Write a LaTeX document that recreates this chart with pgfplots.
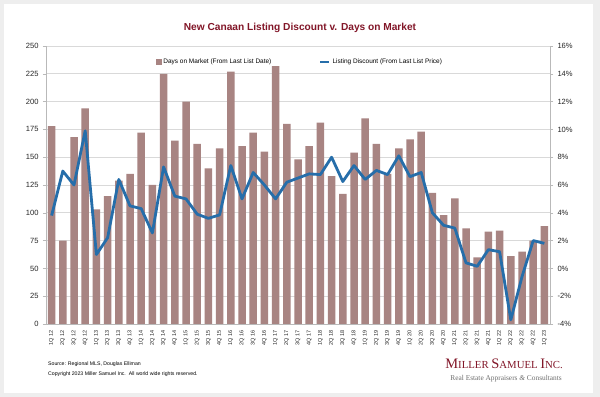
\documentclass[border=0pt]{standalone}
\usepackage{pgfplots}
\pgfplotsset{compat=1.18}
\usepackage{pgfplotstable}
\usepackage{fontspec}
\setmainfont{Liberation Sans}
\newfontfamily\seriffont{Liberation Serif}
\definecolor{barcol}{RGB}{168,132,130}
\definecolor{linecol}{RGB}{38,110,170}
\definecolor{titlecol}{RGB}{130,22,40}
\definecolor{gridcol}{RGB}{217,217,217}
\definecolor{axiscol}{RGB}{185,185,185}
\definecolor{bgcol}{RGB}{238,238,238}
\definecolor{logogray}{RGB}{110,110,110}
\pgfplotstableread{
i dom disc
0 178 3.8
1 75 7.0
2 168 6.0
3 194 9.9
4 103 1.0
5 115 2.2
6 129 6.4
7 135 4.5
8 172 4.3
9 125 2.55
10 225 7.3
11 165 5.2
12 200 5.0
13 162 3.9
14 140 3.6
15 158 3.85
16 227 7.4
17 160 5.0
18 172 6.9
19 155 6.0
20 232 5.0
21 180 6.2
22 148 6.5
23 160 6.8
24 181 6.75
25 133 8.0
26 117 6.25
27 154 7.4
28 185 6.4
29 162 7.05
30 135 6.75
31 158 8.1
32 166 6.6
33 173 6.9
34 118 4.0
35 98 3.1
36 113 2.9
37 86 0.4
38 60 0.15
39 83 1.35
40 84 1.2
41 61 -3.7
42 65 -0.6
43 75 2.0
44 88 1.8
}\data
\begin{document}
\begin{tikzpicture}
\useasboundingbox (0,0) rectangle (600bp,397bp);
\fill[bgcol] (0,0) rectangle (600bp,397bp);
\fill[white] (4bp,4bp) rectangle (593bp,393bp);
\begin{axis}[
  at={(46bp,73bp)}, anchor=south west, scale only axis,
  width=504bp, height=278bp,
  xmin=-0.5, xmax=44.5, ymin=0, ymax=250,
  ytick={0,25,...,250},
  xtick={0,...,44},
  xticklabels={1Q 12,2Q 12,3Q 12,4Q 12,1Q 13,2Q 13,3Q 13,4Q 13,1Q 14,2Q 14,3Q 14,4Q 14,1Q 15,2Q 15,3Q 15,4Q 15,1Q 16,2Q 16,3Q 16,4Q 16,1Q 17,2Q 17,3Q 17,4Q 17,1Q 18,2Q 18,3Q 18,4Q 18,1Q 19,2Q 19,3Q 19,4Q 19,1Q 20,2Q 20,3Q 20,4Q 20,1Q 21,2Q 21,3Q 21,4Q 21,1Q 22,2Q 22,3Q 22,4Q 22,1Q 23},
  axis x line*=bottom, axis y line*=left,
  axis line style={axiscol},
  ymajorgrids, grid style={gridcol, line width=0.6bp},
  tick style={axiscol}, tick align=outside,
  major tick length=3bp,
  xtick style={draw=none},
  /pgf/number format/assume math mode=true,
  yticklabel style={font=\fontsize{7.6}{8}\selectfont, text=black!85, xshift=-1bp},
  xticklabel style={rotate=90, anchor=east, font=\fontsize{5.5}{6}\selectfont, text=black!85},
  ybar, bar width=7.5bp,
]
\addplot[fill=barcol, draw=none] table[x=i,y=dom]{\data};
\end{axis}
\begin{axis}[
  at={(46bp,73bp)}, anchor=south west, scale only axis,
  width=504bp, height=278bp,
  xmin=-0.5, xmax=44.5, ymin=-4, ymax=16,
  ytick={-4,-2,...,16},
  axis y line*=right, axis x line=none,
  axis line style={axiscol},
  tick style={axiscol}, tick align=outside,
  major tick length=3bp,
  /pgf/number format/assume math mode=true,
  yticklabel={\pgfmathprintnumber{\tick}\%},
  yticklabel style={font=\fontsize{7.6}{8}\selectfont, text=black!85, xshift=1bp},
  legend style={at={(0.504,0.942)}, anchor=center, draw=none, fill=none,
    font=\fontsize{6.5}{7}\selectfont, inner sep=0pt},
  legend columns=2,
  /tikz/every even column/.append style={column sep=46bp},
]
\addlegendimage{legend image code/.code={\fill[barcol] (0bp,-2bp) rectangle (5bp,2.5bp);}}
\addlegendentry{Days on Market (From Last List Date)}
\addplot[linecol, line width=2.8bp, line join=round,
  legend image code/.code={\draw[linecol, line width=2.2bp] (0bp,0bp) -- (9bp,0bp);}]
  table[x=i,y=disc]{\data};
\addlegendentry{Listing Discount (From Last List Price)}
\end{axis}
\node[font=\bfseries\fontsize{10.2}{12}\selectfont, text=titlecol] at (300bp,369bp) {New Canaan Listing Discount v. Days on Market};
\node[anchor=base west, font=\fontsize{5.2}{6}\selectfont, inner sep=0pt] at (48bp,31.5bp) {Source: Regional MLS, Douglas Elliman};
\node[anchor=base west, font=\fontsize{5.2}{6}\selectfont, inner sep=0pt] at (48bp,21.5bp) {Copyright 2023 Miller Samuel Inc.\ \ All world wide rights reserved.};
\node[anchor=base east, text=titlecol, font=\seriffont, inner sep=0pt] at (563bp,29bp)
  {{\fontsize{14.5}{15}\selectfont M}{\fontsize{10.8}{11}\selectfont ILLER }{\fontsize{14.5}{15}\selectfont S}{\fontsize{10.8}{11}\selectfont AMUEL }{\fontsize{14.5}{15}\selectfont I}{\fontsize{10.8}{11}\selectfont NC.}};
\node[anchor=base east, text=logogray, font=\seriffont\fontsize{7.4}{8}\selectfont, inner sep=0pt] at (562bp,16.5bp)
  {Real Estate Appraisers \textit{\&} Consultants};
\end{tikzpicture}
\end{document}
